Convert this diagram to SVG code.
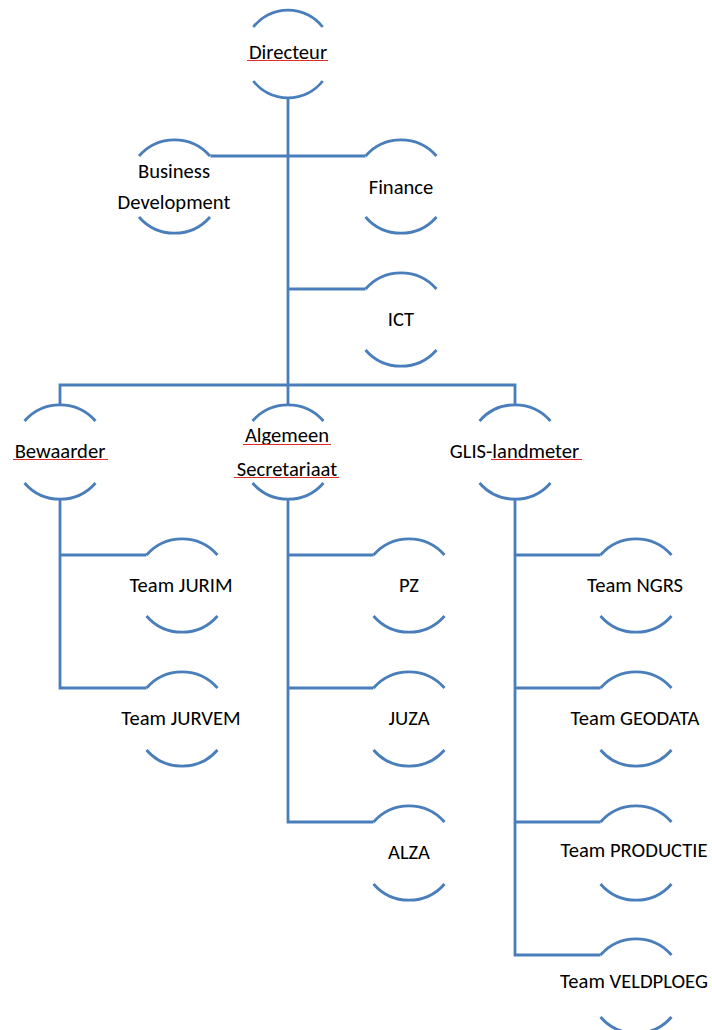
<svg xmlns="http://www.w3.org/2000/svg" width="712" height="1030" viewBox="0 0 712 1030">
<style>
.arc{fill:none;stroke:#4a7ebb;stroke-width:2.8}
.con{fill:none;stroke:#4a7ebb;stroke-width:2.8}
.t{font-family:"Carlito","Lato","Liberation Sans",sans-serif;font-size:20.6px;fill:#000;text-anchor:middle}
.sp{stroke:#e02b2b;stroke-width:1.2}
</style>
<rect width="712" height="1030" fill="#fff"/>
<g id="connectors">
<path class="con" d="M288 98 V405"/>
<path class="con" d="M210.5 156 H365.5"/>
<path class="con" d="M288 289 H365.5"/>
<path class="con" d="M60 405 V385 H515 V405"/>
<path class="con" d="M60 499 V688 H146.5 M60 555 H146.5"/>
<path class="con" d="M288 499 V822 H373.5 M288 555 H373.5 M288 688 H373.5"/>
<path class="con" d="M515 499 V955 H600.5 M515 555 H600.5 M515 688 H600.5 M515 822 H600.5"/>
</g>
<g id="directeur">
<path class="arc" d="M253.3 27 A44 44 0 0 1 322.7 27 M253.3 81 A44 44 0 0 0 322.7 81"/>
<text class="t" x="288" y="59">Directeur</text>
<line class="sp" x1="247" y1="60.5" x2="328" y2="60.5"/>
</g>
<g id="business-development">
<path class="arc" d="M139 156 A47 47 0 0 1 210 156 M139 217 A47 47 0 0 0 210 217"/>
<text class="t" x="174" y="178">Business</text>
<text class="t" x="174" y="209">Development</text>
</g>
<g id="finance">
<path class="arc" d="M365.5 156 A47 47 0 0 1 436.5 156 M365.5 217 A47 47 0 0 0 436.5 217"/>
<text class="t" x="401" y="194">Finance</text>
</g>
<g id="ict">
<path class="arc" d="M365.5 289 A47 47 0 0 1 436.5 289 M365.5 350 A47 47 0 0 0 436.5 350"/>
<text class="t" x="401" y="326">ICT</text>
</g>
<g id="bewaarder">
<path class="arc" d="M24.5 421 A47 47 0 0 1 95.5 421 M24.5 483 A47 47 0 0 0 95.5 483"/>
<text class="t" x="60" y="458">Bewaarder</text>
<line class="sp" x1="13" y1="459.5" x2="108" y2="459.5"/>
</g>
<g id="algemeen-secretariaat">
<path class="arc" d="M252.5 421 A47 47 0 0 1 323.5 421 M252.5 483 A47 47 0 0 0 323.5 483"/>
<text class="t" x="287" y="442">Algemeen</text>
<text class="t" x="287" y="476">Secretariaat</text>
<line class="sp" x1="243" y1="444.5" x2="331" y2="444.5"/>
<line class="sp" x1="234" y1="477.5" x2="339" y2="477.5"/>
</g>
<g id="glis-landmeter">
<path class="arc" d="M479.5 421 A47 47 0 0 1 550.5 421 M479.5 483 A47 47 0 0 0 550.5 483"/>
<text class="t" x="514.5" y="458">GLIS-landmeter</text>
<line class="sp" x1="491" y1="459.5" x2="582" y2="459.5"/>
</g>
<g id="team-jurim">
<path class="arc" d="M146.5 555 A47 47 0 0 1 217.5 555 M146.5 616 A47 47 0 0 0 217.5 616"/>
<text class="t" x="181" y="592">Team JURIM</text>
</g>
<g id="team-jurvem">
<path class="arc" d="M146.5 688 A47 47 0 0 1 217.5 688 M146.5 750 A47 47 0 0 0 217.5 750"/>
<text class="t" x="181" y="725">Team JURVEM</text>
</g>
<g id="pz">
<path class="arc" d="M373.5 555 A47 47 0 0 1 444.5 555 M373.5 616 A47 47 0 0 0 444.5 616"/>
<text class="t" x="409" y="592">PZ</text>
</g>
<g id="juza">
<path class="arc" d="M373.5 688 A47 47 0 0 1 444.5 688 M373.5 750 A47 47 0 0 0 444.5 750"/>
<text class="t" x="409" y="725">JUZA</text>
</g>
<g id="alza">
<path class="arc" d="M373.5 822 A47 47 0 0 1 444.5 822 M373.5 884 A47 47 0 0 0 444.5 884"/>
<text class="t" x="409" y="859">ALZA</text>
</g>
<g id="team-ngrs">
<path class="arc" d="M600.5 555 A47 47 0 0 1 671.5 555 M600.5 616 A47 47 0 0 0 671.5 616"/>
<text class="t" x="635" y="592">Team NGRS</text>
</g>
<g id="team-geodata">
<path class="arc" d="M600.5 688 A47 47 0 0 1 671.5 688 M600.5 750 A47 47 0 0 0 671.5 750"/>
<text class="t" x="635" y="725">Team GEODATA</text>
</g>
<g id="team-productie">
<path class="arc" d="M600.5 822 A47 47 0 0 1 671.5 822 M600.5 884 A47 47 0 0 0 671.5 884"/>
<text class="t" x="634" y="857">Team PRODUCTIE</text>
</g>
<g id="team-veldploeg">
<path class="arc" d="M600.5 955 A47 47 0 0 1 671.5 955 M600.5 1017 A47 47 0 0 0 671.5 1017"/>
<text class="t" x="634" y="988">Team VELDPLOEG</text>
</g>
</svg>
